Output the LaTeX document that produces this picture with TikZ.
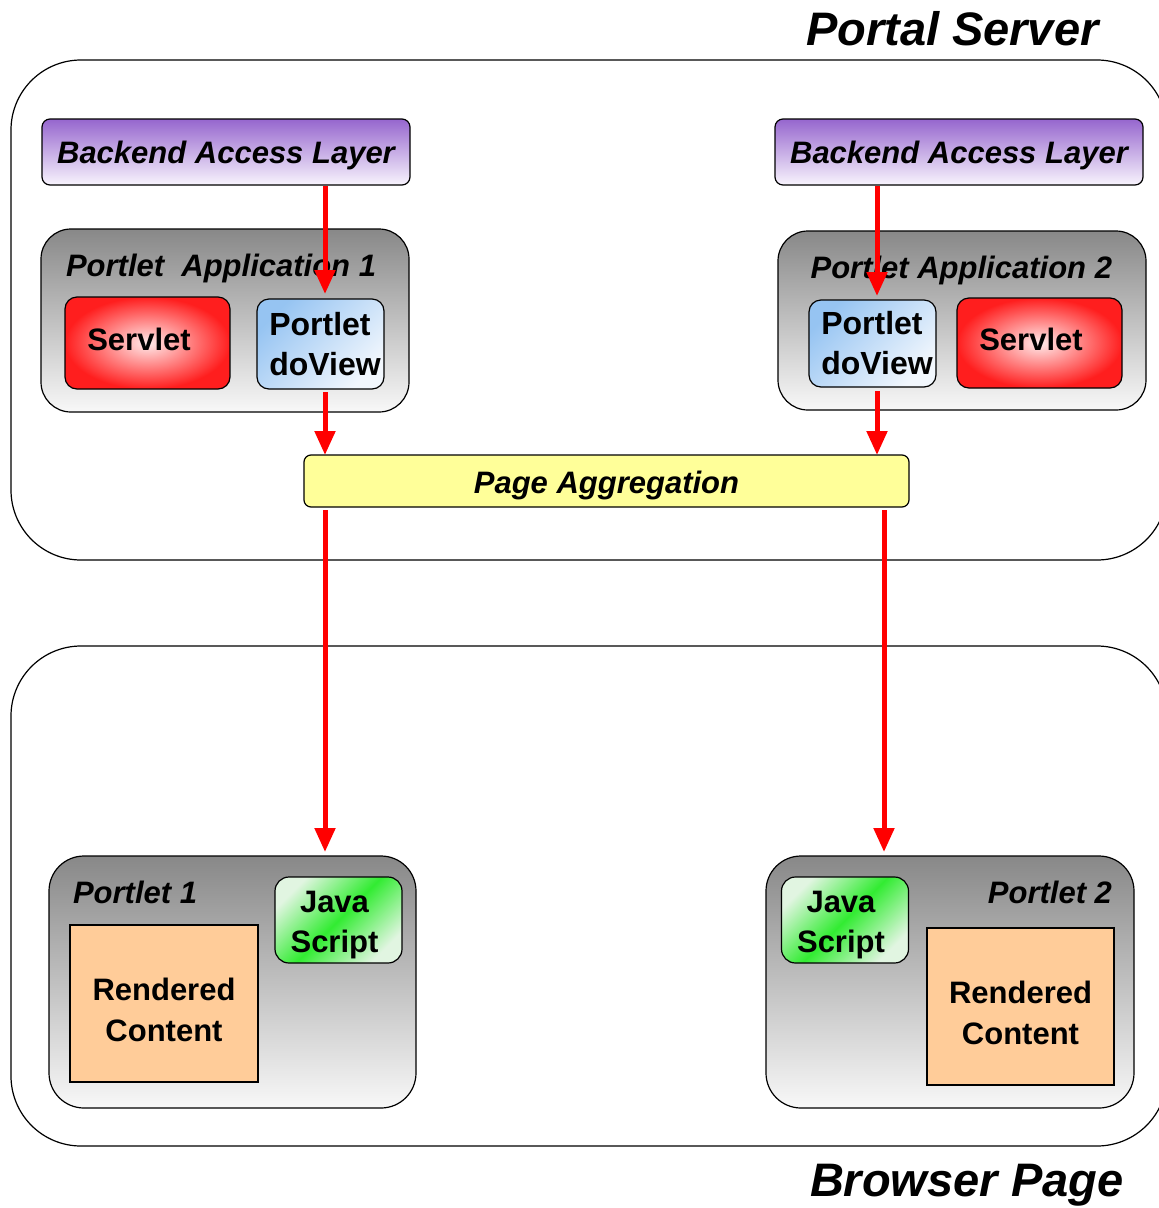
\documentclass[tikz,border=0pt]{standalone}
\usepackage{fontspec}
\setmainfont{Liberation Sans}
\usetikzlibrary{arrows.meta}
\definecolor{purptop}{RGB}{150,102,206}
\definecolor{purpbot}{RGB}{248,244,253}
\definecolor{graytop}{RGB}{136,136,136}
\definecolor{graybot}{RGB}{248,248,248}
\definecolor{bluetop}{RGB}{150,196,242}
\definecolor{bluebot}{RGB}{242,247,253}
\definecolor{jsgreen}{RGB}{50,236,50}
\definecolor{jslight}{RGB}{225,245,225}
\definecolor{peach}{RGB}{255,204,153}
\definecolor{paleyellow}{RGB}{255,255,153}
\definecolor{servred}{RGB}{255,30,30}
\definecolor{servpink}{RGB}{255,235,235}
\definecolor{arrred}{RGB}{255,0,0}
\tikzset{
  base/.style={draw=black, line width=1.2pt, inner sep=0pt, outer sep=0pt},
  outerbox/.style={base, rounded corners=70pt, fill=white},
  bal/.style={base, rounded corners=8pt, top color=purptop, bottom color=purpbot,
    minimum width=368pt, minimum height=66pt,
    font=\fontsize{31}{40}\selectfont\bfseries\itshape, text height=22pt, text depth=0pt},
  container/.style={base, top color=graytop, bottom color=graybot},
  servlet/.style={base, rounded corners=12pt, inner color=servpink, outer color=servred,
    minimum width=165pt, font=\fontsize{31}{40}\selectfont\bfseries,
    text height=22pt, text depth=8pt},
  doview/.style={base, rounded corners=12pt, top color=bluetop, bottom color=bluebot,
    shading angle=45, minimum width=127pt, align=left,
    font=\fontsize{32}{40}\selectfont\bfseries},
  pagg/.style={base, rounded corners=7pt, fill=paleyellow, minimum width=605pt,
    minimum height=52pt, font=\fontsize{31}{40}\selectfont\bfseries\itshape,
    text height=24pt, text depth=0pt},
  jsbox/.style={base, rounded corners=14pt, top color=jslight, bottom color=jslight,
    middle color=jsgreen, shading angle=45, minimum width=127pt, minimum height=86pt,
    align=center, font=\fontsize{31}{40}\selectfont\bfseries},
  rcbox/.style={base, fill=peach, minimum width=188pt, minimum height=157pt,
    align=center, font=\fontsize{31}{41}\selectfont\bfseries},
  title/.style={inner sep=0pt, outer sep=0pt, font=\fontsize{31}{40}\selectfont\bfseries\itshape},
  bigtitle/.style={inner sep=0pt, outer sep=0pt, font=\fontsize{47}{56}\selectfont\bfseries\itshape},
  arr/.style={draw=arrred, line width=5pt, -{Triangle[length=24pt,width=20pt]}}
}
\begin{document}
\begin{tikzpicture}[x=1pt,y=-1pt]
\useasboundingbox (0,0) rectangle (1159,1208);
\clip (0,0) rectangle (1159,1208);

% outer regions
\node[outerbox, minimum width=1156pt, minimum height=500pt] (ps) at (589,310) {};
\node[outerbox, minimum width=1156pt, minimum height=500pt] (bp) at (589,896) {};
\node[bigtitle, anchor=base west] (pstitle) at (806,45) {Portal Server};
\node[bigtitle, anchor=base west] (bptitle) at (810,1196) {Browser Page};

% backend access layers
\node[bal] (bal1) at (226,152) {Backend Access Layer};
\node[bal] (bal2) at (959,152) {Backend Access Layer};

% portlet applications
\node[container, rounded corners=30pt, minimum width=368pt, minimum height=183pt] (pa1) at (225,320.5) {};
\node[container, rounded corners=30pt, minimum width=368pt, minimum height=179pt] (pa2) at (962,320.5) {};
\node[title, anchor=base west] (pa1t) at (66,276) {Portlet~~Application 1};
\node[title, anchor=base east] (pa2t) at (1112,278) {Portlet Application 2};

\node[servlet, minimum height=92pt] (sv1) at (147.5,343) {Servlet\rule{17pt}{0pt}};
\node[doview, minimum height=90pt] (dv1) at (320.5,344) {\rule{9pt}{0pt}Portlet\\\rule{9pt}{0pt}doView};
\node[doview, minimum height=87pt] (dv2) at (872.5,343.5) {\rule{9pt}{0pt}Portlet\\\rule{9pt}{0pt}doView};
\node[servlet, minimum height=90pt] (sv2) at (1039.5,343) {Servlet\rule{17pt}{0pt}};

% page aggregation
\node[pagg] (pagg) at (606.5,481) {Page Aggregation};

% portlets in browser page
\node[container, rounded corners=35pt, minimum width=367pt, minimum height=252pt] (p1) at (232.5,982) {};
\node[container, rounded corners=35pt, minimum width=368pt, minimum height=252pt] (p2) at (950,982) {};
\node[title, anchor=base west] (p1t) at (73,903) {Portlet 1};
\node[title, anchor=base east] (p2t) at (1112,903) {Portlet 2};

\node[jsbox] (js1) at (338.5,920) {\rule{0pt}{32pt}Java\rule{8pt}{0pt}\\Script\rule{8pt}{0pt}};
\node[rcbox] (rc1) at (164,1003.5) {\rule{0pt}{36pt}Rendered\\Content};
\node[jsbox] (js2) at (845,920) {\rule{0pt}{32pt}Java\rule{8pt}{0pt}\\Script\rule{8pt}{0pt}};
\node[rcbox, minimum width=187pt] (rc2) at (1020.5,1006.5) {\rule{0pt}{36pt}Rendered\\Content};

% connectors
\coordinate (xl) at (325,0);
\coordinate (xr) at (877,0);
\coordinate (xr2) at (884,0);
\draw[arr, shorten <=1pt, shorten >=5pt] (bal1.south -| xl) -- (dv1.north -| xl);
\draw[arr, shorten <=1pt, shorten >=4pt] (bal2.south -| xr) -- (dv2.north -| xr);
\draw[arr, shorten <=3pt] (dv1.south -| xl) -- (pagg.north -| xl);
\draw[arr, shorten <=4pt] (dv2.south -| xr) -- (pagg.north -| xr);
\draw[arr, shorten <=3pt, shorten >=4pt] (pagg.south -| xl) -- (p1.north -| xl);
\draw[arr, shorten <=3pt, shorten >=4pt] (pagg.south -| xr2) -- (p2.north -| xr2);
\end{tikzpicture}
\end{document}
